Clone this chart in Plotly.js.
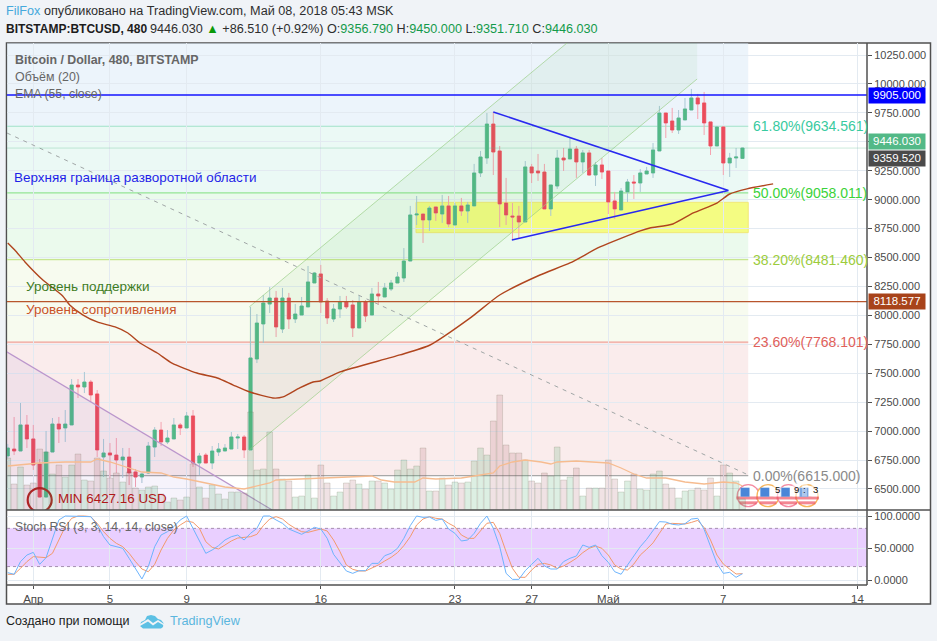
<!DOCTYPE html>
<html><head><meta charset="utf-8">
<script src="https://cdn.plot.ly/plotly-3.0.1.min.js"></script>
<style>html,body{margin:0;padding:0;background:#f0f3f7;overflow:hidden}#c{width:937px;height:641px}</style>
</head><body><div id="c"></div>
<script>
const opens=[6785,6845,6828,7053,6932,6716,6430,6819,7061,7027,7053,7398,7381,7424,7321,6776,6811,6793,6750,6776,6647,6603,6638,6862,7009,6906,6932,7053,7027,7131,6724,6793,6724,6819,6828,6845,6940,6949,6837,7623,7926,8098,8150,7882,8150,7969,8003,8073,8280,8358,8124,7969,8055,8116,8090,7891,8116,8003,8185,8159,8228,8280,8323,8470,8868,8876,8825,8937,8876,8946,8781,8946,8902,8946,9231,9360,9654,9421,8971,8859,8859,8807,9283,9248,9239,8920,9118,9360,9352,9438,9326,9404,9213,9300,9248,8989,8911,9067,9153,9144,9222,9231,9421,9749,9680,9602,9689,9775,9879,9836,9672,9464,9628,9317,9360,9356.79];
const highs=[6889,7122,7243,7139,7053,6759,7001,7113,7122,7182,7450,7450,7511,7442,7355,6932,6897,6940,6854,6854,6672,6638,6906,7035,7079,7009,7113,7070,7165,7182,6811,6811,6871,6897,6888,6992,6975,6966,8073,8012,8176,8245,8211,8237,8194,8098,8159,8427,8375,8436,8150,8098,8168,8168,8133,8176,8133,8237,8289,8280,8306,8375,8582,8946,9032,8876,8946,8937,9041,9032,8971,9015,8980,9309,9421,9749,9758,9464,9188,8971,8946,9334,9309,9395,9309,9127,9430,9447,9542,9464,9430,9430,9326,9360,9248,9067,9101,9179,9213,9265,9283,9490,9810,9749,9793,9775,9879,9957,9914,9931,9672,9637,9637,9404,9447,9450];
const lows=[6767,6793,6828,6854,6664,6427.16,6427.16,6819,6897,6906,7053,7286,7329,7252,6776,6603,6595,6638,6595,6534,6517,6551,6629,6776,6871,6888,6932,6966,7027,6690,6621,6724,6672,6785,6828,6845,6845,6767,6837,7588,7761,8021,7813,7848,7882,7934,8003,8073,8280,8021,7926,7943,7978,8055,7813,7891,7943,8003,8090,8159,8211,8280,8289,8470,8781,8626,8730,8816,8799,8764,8781,8859,8799,8946,9196,9309,9213,8764,8781,8652,8660,8807,9144,9162,8920,8859,9093,9248,9352,9188,9231,9205,9118,9179,8876,8833,8911,8980,9006,9067,9222,9188,9421,9533,9576,9568,9689,9775,9697,9559,9386,9464,9213,9196,9274,9351.71];
const closes=[6854,6828,7053,6932,6707,6430,6819,7061,7018,7061,7398,7381,7424,7312,6837,6811,6793,6750,6776,6638,6603,6629,6871,7009,6906,6940,7053,7027,7131,6724,6785,6724,6828,6845,6854,6949,6949,6837,7632,7934,8107,8150,7900,8150,7969,8012,8081,8289,8366,8116,7978,8055,8116,8073,7891,8116,7995,8185,8168,8237,8280,8332,8470,8868,8876,8825,8928,8885,8946,8790,8946,8902,8954,9231,9369,9654,9412,8963,8868,8850,8807,9283,9231,9231,8920,9127,9360,9343,9438,9326,9404,9213,9300,9239,8980,8920,9075,9153,9144,9231,9248,9430,9749,9663,9602,9706,9784,9879,9827,9663,9464,9628,9317,9360,9369,9446.03];
const volumes=[5200,2600,4300,2500,2700,6100,5800,3600,4500,3300,4500,5600,3000,2900,5200,3900,3200,3700,2800,3800,2200,2000,2300,2400,1600,800,1200,1000,1300,4600,2300,1200,2500,1600,1100,1800,1800,1700,9800,4000,4100,7800,4100,3100,2900,1300,1400,3500,1200,4500,2700,1400,1800,2700,3000,2600,2100,2900,2900,2700,2100,4000,5000,4100,4400,6200,1900,1900,3200,2500,2800,2700,2800,4900,6200,5500,8900,11500,6500,5700,5700,5000,2900,2700,3700,3400,6300,3000,3300,4200,1400,2200,2200,2200,5000,3100,1800,2900,3600,2100,2000,3600,3900,2600,2200,1200,1900,2000,2200,2000,3200,1400,4500,3700,2900,1100];
const volMaBars=[0,4,5,9,13,14,16,19,21,24,26,28,31,34,37,39,41,42,46,49,52,54,57,58.5,60.5,63.7,65,67,71,74,76,77,79,81,83.5,85,86,89,92,94,96,98,100,103,106,109,112,114,115];
const volMaValues=[4400,4600,4700,4800,4800,5100,4800,4200,3800,3700,3300,3100,2700,2300,2100,2400,2700,3000,3100,3200,3200,3300,3400,3000,2800,2800,3200,3100,3200,3500,3700,4400,4800,5000,4800,4600,4800,4900,4800,4700,4200,3600,3200,3200,2800,2600,2800,2700,2400];
const emaBars=[0,1.1,2.7,5.5,8.6,9.7,11.8,14,16.8,18.8,20.7,23.4,25.7,29.6,32.8,35.3,37.9,41.5,43.1,45.7,47.8,48.9,52,61.4,66.1,72.4,77,83.3,88,92.7,99,100.5,104.1,107.3,111,113,115.7,119.8];
const emaValues=[8626,8565,8462,8306,8168,8090,8003,7943,7900,7848,7761,7675,7588,7502,7459,7398,7338,7286,7295,7373,7424,7433,7511,7658,7744,7978,8176,8349,8453,8591,8730,8755,8790,8885,8971,9049,9093,9136];
const stochK=[11.5,8.9,28.7,39,43.2,24.5,34.9,65.1,93.8,100,100,100,100,99,86,67.7,54.7,52.1,49.5,33.9,18.2,1.6,20.9,52.1,70.3,75.5,83.3,93.8,100,80.7,59.9,41.7,46.9,53.7,62.5,67.7,70.3,62.5,72.9,80.7,100,100,93.8,88.6,79.7,75.5,71.4,76.6,82.3,79.7,65.1,40.1,27.6,14.1,10.4,14.6,14.6,26,26,38,41.7,49.5,65.1,84.9,100,97.9,98.4,93.2,95.3,79.7,72.9,61,62.5,72.9,88.6,100,80.7,52.1,10.4,1,1,14.6,24.5,33.9,21.9,17.2,17.2,28.7,33.9,37.5,54.7,51,54.7,38,27.6,13,9,23.4,38,52,63.5,78,91.2,90.6,87,86,88,95.3,96.4,79,52,26,10.4,12,4.2,9.9];
const stochD=[8.9,8.9,18.2,28.7,36.5,35.4,34.9,41.7,62.5,83.3,96.4,100,100,99,88.6,75.5,65.1,57.3,52.1,41.7,28.7,17.2,13,24.5,46.9,65.1,78.1,86,92.2,90.1,80.7,59.9,51,48.5,54.7,61,65.6,66.7,67.7,71.4,84.9,95.3,99,95.3,87,80.7,75.5,74.5,76.6,79.7,76.6,62.5,44.3,23.5,16.7,14.1,14.1,18.2,23.5,29.7,35.4,42.7,53.7,67.7,86,95.3,99,96.4,95.3,88.6,83.3,70.3,65.1,65.1,76.6,88.6,90.1,72.9,44.3,18.2,4.2,4.2,15.6,24.5,26,23.5,18.2,21.9,27.6,33.9,42.7,49.5,53.1,49.5,39,23.5,17.2,15.6,25,39,48,58,73,87.5,88.5,87.5,87.5,90,93.2,82,62.5,39,25,17,9.4,9.9];
const fibLevels=[6615,7768.101,8481.46,9058.011,9634.561];
const fibLabels=['0.00%(6615.000)','23.60%(7768.101)','38.20%(8481.460)','50.00%(9058.011)','61.80%(9634.561)'];
const fibTextColors=['#8a8a8a','#e0605a','#9ccc3c','#3ad23a','#38caa0'];
const fibLineColors=['#a8a8a8','#f0a097','#c8e690','#95e495','#9fe2c8'];
const fibFills=['rgba(245,217,217,.5)','rgba(239,247,223,.5)','rgba(215,245,219,.5)','rgba(215,243,235,.5)','rgba(217,233,247,.5)'];
const fibTop=10354;
const priceTicks=[6500,6750,7000,7250,7500,7750,8000,8250,8500,8750,9000,9250,9500,9750,10000,10250];
const timeTicks=[4,16,28,49,70,82,94,112,133];
const timeLabels=['Апр','5','9','16','23','27','Май','7','14'];
const stochTicks=[0,50,100];
const stochTickLabels=['0.0000','50.0000','100.0000'];
const stochBand=[21,80.7];
const priceBoxes=[[9905,'9905.000','#0000ff',95],[9446.03,'9446.030','#53b987',141.5],[9359.52,'9359.520','#4a4a4a',158],[8118.577,'8118.577','#a8431a',301.5]];
const channelBars=[37.8,37.8,107.9,107.9];
const channelPrices=[6837,8073,11288,10043];
const wedgeBars=[-1,41.4,-1];
const wedgePrices=[7713,6318,6318];
const trendBars=[-0.12,115.9];
const trendPrices=[9576,6621];
const triBars=[76,112.8,78.9];
const triPrices=[9758,9079,8652];
const boxBars=[63.9,115.9];
const boxPrices=[8715,8977];
const flagBars=[115.9,119,122.2,125.1];
const flagPrice=6442;
const flagRings=['#f58aa0','#f7b45a','#f58aa0','#f7b45a'];
const flagNotes=[['5',777],['9',796],[':',804],['3',815]];

const X=p=>(p-7)/860, Y=p=>(585-p)/542;
const SANS='"Liberation Sans",Arial,sans-serif';
const grid='#e3eaf1', axisCol='#4f4f4f';
const bar=closes.map((_,i)=>i);
const up=closes.map((c,i)=>c>=opens[i]);
const note=(text,px,py,o={})=>({text,xref:'paper',yref:'paper',x:X(o.anchor?px:px-2),y:Y(py),xanchor:o.anchor||'left',yanchor:'middle',showarrow:false,align:o.align||'left',font:{family:SANS,size:o.size||13,color:o.color||'#666'},...(o.extra||{})});

const traces=[];
traces.push({type:'candlestick',x:bar,open:opens,high:highs,low:lows,close:closes,xaxis:'x',yaxis:'y',hoverinfo:'skip',
  increasing:{line:{color:'#a9c8d4',width:1},fillcolor:'#a9c8d4'},decreasing:{line:{color:'#f5a3b0',width:1},fillcolor:'#f5a3b0'}});
traces.push({type:'candlestick',x:bar,open:opens,close:closes,
  high:closes.map((c,i)=>Math.max(c,opens[i])),low:closes.map((c,i)=>Math.min(c,opens[i])),xaxis:'x',yaxis:'y',hoverinfo:'skip',
  increasing:{line:{color:'#53b987',width:.6},fillcolor:'#53b987'},decreasing:{line:{color:'#eb4d5c',width:.6},fillcolor:'#eb4d5c'}});
traces.push({type:'scatter',mode:'none',x:channelBars.concat(channelBars[0]),y:channelPrices.concat(channelPrices[0]),fill:'toself',fillcolor:'rgba(76,175,80,.065)',xaxis:'x',yaxis:'y',hoverinfo:'skip'});
traces.push({type:'scatter',mode:'lines',x:[channelBars[0],channelBars[3]],y:[channelPrices[0],channelPrices[3]],line:{color:'rgba(150,205,130,.65)',width:1},xaxis:'x',yaxis:'y',hoverinfo:'skip'});
traces.push({type:'scatter',mode:'lines',x:[channelBars[1],channelBars[2]],y:[channelPrices[1],channelPrices[2]],line:{color:'rgba(150,205,130,.65)',width:1},xaxis:'x',yaxis:'y',hoverinfo:'skip'});
traces.push({type:'scatter',mode:'none',x:wedgeBars.concat(wedgeBars[0]),y:wedgePrices.concat(wedgePrices[0]),fill:'toself',fillcolor:'rgba(103,58,183,.06)',xaxis:'x',yaxis:'y',hoverinfo:'skip'});
traces.push({type:'scatter',mode:'lines',x:wedgeBars.slice(0,2),y:wedgePrices.slice(0,2),line:{color:'#bb96cc',width:1.2},xaxis:'x',yaxis:'y',hoverinfo:'skip'});
traces.push({type:'scatter',mode:'lines',x:trendBars,y:trendPrices,line:{color:'#a0a6a6',width:1,dash:'4px,5px'},xaxis:'x',yaxis:'y',hoverinfo:'skip'});
traces.push({type:'scatter',mode:'lines',x:emaBars,y:emaValues,line:{color:'#b0451e',width:1.4,shape:'spline',smoothing:.6},xaxis:'x',yaxis:'y',hoverinfo:'skip'});
traces.push({type:'scatter',mode:'lines',x:triBars,y:triPrices,line:{color:'#2929f0',width:1.5},xaxis:'x',yaxis:'y',hoverinfo:'skip'});
traces.push({type:'scatter',mode:'markers',x:[5],y:[6404],marker:{symbol:'circle-open',size:24,color:'#b01818',line:{color:'#b01818',width:2.2}},xaxis:'x',yaxis:'y',hoverinfo:'skip'});
traces.push({type:'bar',x:bar,y:volumes,width:.9,marker:{color:up.map(u=>u?'rgba(83,175,115,.2)':'rgba(165,85,95,.17)'),line:{color:'rgba(110,110,85,.2)',width:1}},xaxis:'x',yaxis:'y3',hoverinfo:'skip'});
traces.push({type:'scatter',mode:'lines',x:volMaBars,y:volMaValues,line:{color:'#f6bc90',width:1.3},xaxis:'x',yaxis:'y3',hoverinfo:'skip'});
traces.push({type:'scatter',mode:'lines',x:bar,y:stochD,line:{color:'#f39a6c',width:1},xaxis:'x',yaxis:'y2',hoverinfo:'skip'});
traces.push({type:'scatter',mode:'lines',x:bar,y:stochK,line:{color:'#6db4fd',width:1},xaxis:'x',yaxis:'y2',hoverinfo:'skip'});
flagBars.forEach((b,i)=>{
  traces.push({type:'scatter',mode:'markers',x:[b],y:[flagPrice],marker:{symbol:'circle',size:22,color:'#fff',line:{color:flagRings[i],width:1.4}},xaxis:'x',yaxis:'y',hoverinfo:'skip',cliponaxis:false});
  traces.push({type:'scatter',mode:'markers',x:[b,b],y:[flagPrice-20,flagPrice-62],marker:{symbol:'line-ew',size:[17,12],line:{color:'#ee5565',width:3}},xaxis:'x',yaxis:'y',hoverinfo:'skip',cliponaxis:false});
  traces.push({type:'scatter',mode:'markers',x:[b-.5],y:[flagPrice+30],marker:{symbol:'square',size:9,color:'#4a86d8'},xaxis:'x',yaxis:'y',hoverinfo:'skip',cliponaxis:false});
});

const shapes=[];
shapes.push({type:'rect',layer:'below',xref:'paper',yref:'paper',x0:X(6.5),x1:X(930.5),y0:Y(604),y1:Y(43),fillcolor:'#fff',line:{color:'#505050',width:1.5}});
const tops=fibLevels.slice(1).concat(fibTop);
fibLevels.forEach((l,i)=>{
  shapes.push({type:'rect',layer:'below',xref:'x',yref:'y',x0:-0.12,x1:boxBars[1],y0:l,y1:tops[i],fillcolor:fibFills[i],line:{width:0}});
  shapes.push({type:'line',layer:'below',xref:'x',yref:'y',x0:-0.12,x1:boxBars[1],y0:l,y1:l,line:{color:fibLineColors[i],width:1.2}});
});
shapes.push({type:'rect',layer:'below',xref:'x',yref:'y',x0:boxBars[0],x1:boxBars[1],y0:boxPrices[0],y1:boxPrices[1],fillcolor:'rgba(246,252,110,.85)',line:{color:'#f2e878',width:1}});
shapes.push({type:'rect',layer:'below',xref:'paper',yref:'y2',x0:0,x1:1,y0:stochBand[0],y1:stochBand[1],fillcolor:'rgba(211,159,255,.5)',line:{width:0}});
stochBand.forEach(v=>shapes.push({type:'line',layer:'below',xref:'paper',yref:'y2',x0:0,x1:1,y0:v,y1:v,line:{color:'#a58fb0',width:1,dash:'3px,3px'}}));
shapes.push({type:'line',layer:'above',xref:'paper',yref:'y',x0:0,x1:1,y0:closes[closes.length-1],y1:closes[closes.length-1],line:{color:'rgba(83,185,135,.3)',width:1}});
shapes.push({type:'line',layer:'above',xref:'paper',yref:'y',x0:0,x1:1,y0:priceBoxes[0][0],y1:priceBoxes[0][0],line:{color:'#1414ff',width:1.4}});
shapes.push({type:'line',layer:'above',xref:'paper',yref:'y',x0:0,x1:1,y0:priceBoxes[3][0],y1:priceBoxes[3][0],line:{color:'#b8552c',width:1.4}});
shapes.push({type:'line',layer:'above',xref:'paper',yref:'paper',x0:X(6.5),x1:X(930.5),y0:Y(510),y1:Y(510),line:{color:'#505050',width:1.5}});
shapes.push({type:'line',layer:'above',xref:'paper',yref:'paper',x0:X(6.5),x1:X(867),y0:Y(585),y1:Y(585),line:{color:'#505050',width:1.5}});
shapes.push({type:'line',layer:'above',xref:'paper',yref:'paper',x0:X(867),x1:X(867),y0:Y(585),y1:Y(43),line:{color:'#505050',width:1.5}});
const pth=pts=>'M'+pts.map(p=>X(p[0])+','+Y(p[1])).join('L')+'Z';
shapes.push({type:'path',layer:'above',xref:'paper',yref:'paper',fillcolor:'#5cc0e4',line:{width:0},
  path:pth([[140,626],[141,622],[145,620],[147,616],[151,615],[155,616],[158,619],[161,620],[163.5,623],[163,627],[161,628.5],[143,628.5]])});
shapes.push({type:'path',layer:'above',xref:'paper',yref:'paper',fillcolor:'#f0f3f7',line:{width:0},
  path:pth([[140,624],[148,619],[153,623],[158,620],[164,624],[164,625.5],[158,622],[153,625.5],[148,621.5],[140,626]])});

const ann=[];
ann.push({...note('<span style="color:#45a9dc">FilFox</span> опубликовано на TradingView.com, Май 08, 2018 05:43 MSK',6,11,{size:12.65,color:'#2e2e2e'})});
ann.push(note('<b>BITSTAMP:BTCUSD, 480</b>',6,29,{size:12,color:'#1c1c1c'}));
const g=s=>'<span style="color:#139a4a">'+s+'</span>';
ann.push(note('9446.030 <span style="color:#0a9a0a">▲</span> +86.510 (+0.92%) O:'+g('9356.790')+' H:'+g('9450.000')+' L:'+g('9351.710')+' C:'+g('9446.030'),150,29,{size:12.65,color:'#2e2e2e'}));
ann.push(note('<b>Bitcoin / Dollar, 480, BITSTAMP</b>',15,60,{size:12.4,color:'#666'}));
ann.push(note('Объём (20)',15,77,{size:12.4,color:'#666'}));
ann.push(note('EMA (55, close)',15,94,{size:12.3,color:'#666'}));
ann.push(note('Верхняя граница разворотной области',14,178,{size:13.45,color:'#1f1fe8'}));
ann.push(note('Уровень поддержки',26,286,{size:13.5,color:'#3f7d1f'}));
ann.push(note('Уровень сопротивления',26,309,{size:13.5,color:'#c9532a'}));
ann.push(note('MIN 6427.16 USD',58,498,{size:13.4,color:'#b01818'}));
ann.push(note('Stoch RSI (3, 3, 14, 14, close)',15,527,{size:12.2,color:'#666'}));
ann.push(note('Создано при помощи',6,621,{size:12.5,color:'#1c1c1c'}));
ann.push(note('TradingView',170,621,{size:12.7,color:'#5bb6de'}));
fibLevels.forEach((l,i)=>ann.push({text:fibLabels[i],xref:'paper',yref:'y',x:X(750.5),y:l,xanchor:'left',yanchor:'middle',showarrow:false,font:{family:SANS,size:14,color:fibTextColors[i]}}));
priceBoxes.forEach(b=>ann.push({text:b[1],xref:'paper',yref:'paper',x:X(867.5),y:Y(b[3]),xanchor:'left',yanchor:'middle',showarrow:false,width:56,height:14.5,bgcolor:b[2],borderpad:0,align:'center',font:{family:SANS,size:11.5,color:'#fff'}}));
flagNotes.forEach(n=>ann.push(note(n[0],n[1],489,{size:9.5,color:'#111',anchor:'center',extra:{bgcolor:'rgba(255,255,255,.55)'}})));

Plotly.newPlot('c',traces,{
  width:937,height:641,autosize:false,showlegend:false,
  paper_bgcolor:'#f0f3f7',plot_bgcolor:'rgba(0,0,0,0)',
  margin:{l:7,r:70,t:43,b:56,pad:0},bargap:0,
  xaxis:{domain:[0,1],range:[-0.115,134.49],anchor:'y2',tickmode:'array',tickvals:timeTicks,ticktext:timeLabels,ticks:'outside',ticklen:3,tickcolor:axisCol,gridcolor:grid,zeroline:false,showline:false,tickfont:{family:SANS,size:11.5,color:'#4a4a4a'},rangeslider:{visible:false},tickangle:0},
  yaxis:{domain:[75/542,1],range:[6318,10354],side:'right',anchor:'x',tickmode:'array',tickvals:priceTicks,ticktext:priceTicks.map(v=>v.toFixed(3)),ticks:'outside',ticklen:4,tickcolor:axisCol,gridcolor:grid,zeroline:false,showline:false,tickfont:{family:SANS,size:11,color:'#4a4a4a'}},
  yaxis2:{domain:[0,75/542],range:[-7.8,109.4],side:'right',anchor:'x',tickmode:'array',tickvals:stochTicks,ticktext:stochTickLabels,ticks:'outside',ticklen:4,tickcolor:axisCol,gridcolor:grid,zeroline:false,showline:false,tickfont:{family:SANS,size:11,color:'#4a4a4a'}},
  yaxis3:{overlaying:'y',side:'right',anchor:'x',range:[0,46700],visible:false,fixedrange:true},
  shapes,annotations:ann
},{staticPlot:true,displayModeBar:false});
</script></body></html>
